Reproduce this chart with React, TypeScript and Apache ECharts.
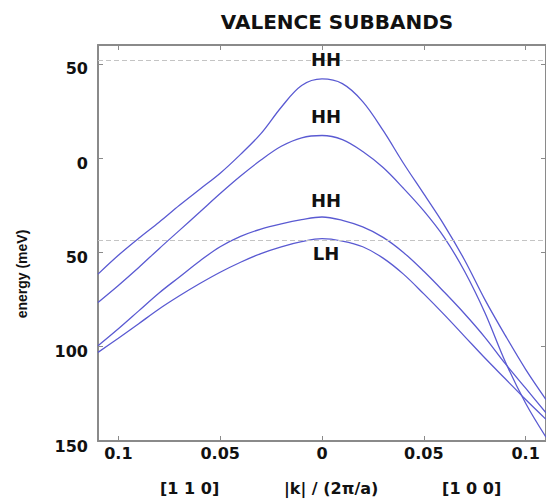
import React, { useEffect, useRef } from 'react';
import * as echarts from 'echarts';

// wave vector |k| / (2π/a); negative side = [1 1 0] direction, positive side = [1 0 0]
const kValues = [-0.11, -0.1, -0.09, -0.08, -0.07, -0.06, -0.05, -0.04, -0.03, -0.02, -0.01, 0,
  0.01, 0.02, 0.03, 0.04, 0.05, 0.06, 0.07, 0.08, 0.09, 0.1, 0.11];

// energies (meV)
const hh1 = [-61.5, -51.5, -42.5, -34, -25, -16.5, -8, 2, 13, 27, 38.5, 42,
  39.5, 30, 14.7, -2.7, -19, -35.5, -54, -75, -94, -112, -128];
const hh2 = [-76.5, -67.5, -58, -48, -38.3, -28.6, -18.8, -9.5, -1, 6.3, 10.8, 12,
  9.8, 3.5, -5, -16, -28, -42, -60, -82, -108, -130, -148];
const hh3 = [-99.5, -90.5, -81, -71.5, -63, -54.5, -47, -41.5, -37.6, -34.8, -32.6, -31.2,
  -33, -36.5, -42, -50, -60, -71, -82.5, -95, -109, -122, -135];
const lh1 = [-103, -95.5, -87.8, -80, -73, -66.5, -60.5, -55.2, -50.6, -47, -44.3, -42.7,
  -44, -47, -53, -61.5, -72, -83, -94.5, -106, -117, -128, -138.5];

const xTicks = [-0.1, -0.05, 0, 0.05, 0.1];
const yTicks = [-150, -100, -50, 0, 50];

const bandNames = ['HH', 'HH', 'HH', 'LH'];
const bandLabelK = [0.002, 0.002, 0.002, 0.002];
const bandLabelE = [52.5, 22.3, -22.3, -50.8];

const dashedLevels = [52, -43.5];

const directionLabels = ['[1 1 0]', '|k| / (2\u03c0/a)', '[1 0 0]'];
const directionLabelK = [-0.065, 0.0045, 0.0735];

const titleText = 'VALENCE SUBBANDS';
const yName = 'energy (meV)';

const LINE_COLOR = '#5a5ad2';
const FRAME_COLOR = '#8a8a8a';
const TEXT_COLOR = '#111111';
const FONT = '"DejaVu Sans", sans-serif';

export default function App() {
  const ref = useRef<HTMLDivElement>(null);

  useEffect(() => {
    if (!ref.current) return;
    const chart = echarts.init(ref.current, undefined, { renderer: 'svg' });

    const fmt = (v: number) => String(Math.abs(Math.round(v * 1000) / 1000));

    const bands = [hh1, hh2, hh3, lh1];
    const lineSeries = bands.map((vals, bi) => ({
      type: 'line',
      data: kValues.map((k, i) => [k, vals[i]]),
      smooth: 0.35,
      showSymbol: false,
      symbol: 'none',
      lineStyle: { color: LINE_COLOR, width: 1.3 },
      z: 3,
      markLine: bi === 0 ? {
        silent: true,
        symbol: 'none',
        label: { show: false },
        lineStyle: { color: '#c4c4c4', type: [5, 3], width: 1 },
        data: dashedLevels.map((e) => ({ yAxis: e })),
      } : undefined,
    }));

    const option: any = {
      animation: false,
      backgroundColor: '#ffffff',
      title: {
        text: titleText,
        left: 332,
        top: 7,
        textAlign: 'center',
        textStyle: { fontFamily: FONT, fontSize: 20, fontWeight: 'bold', color: TEXT_COLOR },
      },
      grid: { left: 98, right: -2, top: 45, bottom: 58, containLabel: false },
      xAxis: [
        {
          type: 'value',
          min: -0.11,
          max: 0.11,
          position: 'bottom',
          axisLine: { show: true, onZero: false, lineStyle: { color: FRAME_COLOR, width: 2 } },
          axisTick: { show: true, inside: true, length: 5, customValues: xTicks, lineStyle: { color: FRAME_COLOR } },
          axisLabel: {
            show: true, customValues: xTicks, formatter: fmt, margin: 4,
            fontFamily: FONT, fontSize: 16, fontWeight: 'bold', color: TEXT_COLOR,
          },
          splitLine: { show: false },
        },
        {
          type: 'value',
          min: -0.11,
          max: 0.11,
          position: 'top',
          axisLine: { show: true, onZero: false, lineStyle: { color: FRAME_COLOR, width: 2 } },
          axisTick: { show: true, inside: true, length: 5, customValues: xTicks, lineStyle: { color: FRAME_COLOR } },
          axisLabel: { show: false },
          splitLine: { show: false },
        },
      ],
      yAxis: [
        {
          type: 'value',
          min: -150,
          max: 60,
          position: 'left',
          axisLine: { show: true, onZero: false, lineStyle: { color: FRAME_COLOR, width: 2 } },
          axisTick: { show: true, inside: true, length: 5, customValues: yTicks, lineStyle: { color: FRAME_COLOR } },
          axisLabel: {
            show: true, customValues: yTicks, formatter: fmt, margin: 10,
            verticalAlign: 'top', lineHeight: 10,
            fontFamily: FONT, fontSize: 16, fontWeight: 'bold', color: TEXT_COLOR,
          },
          splitLine: { show: false },
        },
        {
          type: 'value',
          min: -150,
          max: 60,
          position: 'right',
          axisLine: { show: true, onZero: false, lineStyle: { color: FRAME_COLOR, width: 2 } },
          axisTick: { show: true, inside: true, length: 5, customValues: yTicks, lineStyle: { color: FRAME_COLOR } },
          axisLabel: { show: false },
          splitLine: { show: false },
        },
      ],
      series: [
        ...lineSeries,
        {
          type: 'scatter',
          symbolSize: 0,
          silent: true,
          z: 5,
          itemStyle: { color: TEXT_COLOR, opacity: 1 },
          data: bandNames.map((n, i) => ({ name: n, value: [bandLabelK[i], bandLabelE[i]] })),
          label: {
            show: true,
            position: 'inside',
            formatter: (p: any) => p.name,
            fontFamily: FONT,
            fontSize: 18,
            fontWeight: 'bold',
            color: TEXT_COLOR,
            textBorderWidth: 0,
            textBorderColor: 'transparent',
          },
        },
      ],
    };

    chart.setOption(option);

    const axisPx = chart.convertToPixel({ yAxisIndex: 0 }, -150) as number;
    const graphics: any[] = directionLabels.map((t, i) => ({
      type: 'text',
      x: chart.convertToPixel({ xAxisIndex: 0 }, directionLabelK[i]) as number,
      y: axisPx + 47,
      style: {
        text: t,
        fontFamily: FONT,
        fontSize: 16,
        fontWeight: 'bold',
        fill: TEXT_COLOR,
        textAlign: 'center',
        textVerticalAlign: 'middle',
      },
    }));
    graphics.push({
      type: 'text',
      x: 22,
      y: 274,
      rotation: Math.PI / 2,
      style: {
        text: yName,
        fontFamily: '"Liberation Sans", Arial, sans-serif',
        fontSize: 14,
        fontWeight: 'bold',
        fill: TEXT_COLOR,
        textAlign: 'center',
        textVerticalAlign: 'middle',
      },
    });
    chart.setOption({ graphic: graphics });

    return () => chart.dispose();
  }, []);

  return <div ref={ref} style={{ width: 546, height: 499, position: 'absolute', left: 0, top: 0 }} />;
}
